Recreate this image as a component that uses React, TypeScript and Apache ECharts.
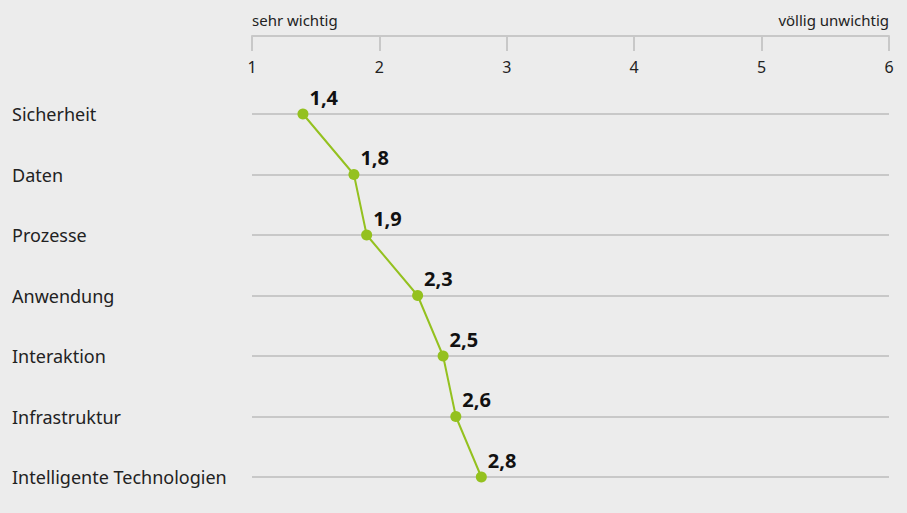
import React, { useEffect, useRef } from "react";
import * as echarts from "echarts";

const categories = [
  "Sicherheit",
  "Daten",
  "Prozesse",
  "Anwendung",
  "Interaktion",
  "Infrastruktur",
  "Intelligente Technologien",
];
const values = [1.4, 1.8, 1.9, 2.3, 2.5, 2.6, 2.8];
const scaleMinLabel = "sehr wichtig";
const scaleMaxLabel = "völlig unwichtig";
const xMin = 1;
const xMax = 6;

const FONT = "'Noto Sans', sans-serif";

export default function App() {
  const ref = useRef<HTMLDivElement>(null);
  useEffect(() => {
    document.body.style.margin = "0";
    const chart = echarts.init(ref.current!, null, { renderer: "svg" });
    chart.setOption({
      animation: false,
      backgroundColor: "#ececec",
      textStyle: { fontFamily: FONT },
      grid: { left: 252, right: 18, top: 114, bottom: 36, containLabel: false },
      xAxis: {
        type: "value",
        position: "top",
        min: xMin,
        max: xMax,
        interval: 1,
        offset: 78,
        axisLine: { show: true, lineStyle: { color: "#c8c8c8", width: 2 } },
        axisTick: { show: true, inside: true, length: 15, lineStyle: { color: "#c8c8c8", width: 2 } },
        axisLabel: { inside: true, margin: 23, color: "#222", fontSize: 16, fontFamily: FONT },
        splitLine: { show: false },
      },
      yAxis: {
        type: "category",
        data: categories,
        inverse: true,
        boundaryGap: false,
        axisLine: { show: false },
        axisTick: { show: false },
        axisLabel: { align: "left", margin: 240, color: "#222", fontSize: 18, fontFamily: FONT },
        splitLine: { show: true, lineStyle: { color: "#c8c8c8", width: 2 } },
      },
      graphic: [
        {
          type: "text",
          left: 252,
          top: 12,
          style: { text: scaleMinLabel, fill: "#222", font: `15px ${FONT}` },
        },
        {
          type: "text",
          right: 907 - 889,
          top: 12,
          style: { text: scaleMaxLabel, fill: "#222", font: `15px ${FONT}` },
        },
      ],
      series: [
        {
          type: "line",
          data: values,
          symbol: "circle",
          symbolSize: 11,
          itemStyle: { color: "#94c11f" },
          lineStyle: { color: "#94c11f", width: 2 },
          label: {
            show: true,
            position: "right",
            distance: 1,
            offset: [0, -17],
            color: "#111",
            fontSize: 20,
            fontWeight: "bold",
            fontFamily: FONT,
            formatter: (p: any) => String(p.value).replace(".", ","),
          },
        },
      ],
    });
    return () => chart.dispose();
  }, []);
  return <div ref={ref} style={{ width: 907, height: 513 }} />;
}
